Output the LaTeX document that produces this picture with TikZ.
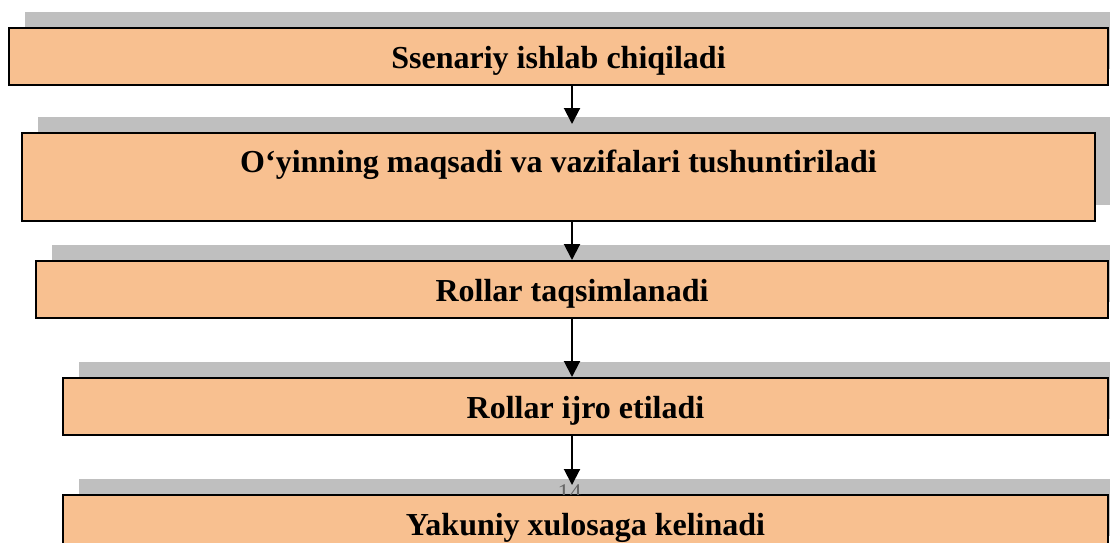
\documentclass[tikz,border=0pt]{standalone}
\usepackage{fontspec}
\setmainfont{Liberation Serif}
\usepackage{xcolor}
\usetikzlibrary{arrows.meta, positioning, shadows}
\definecolor{boxorange}{RGB}{248,192,144}
\definecolor{boxshade}{RGB}{191,191,191}
\begin{document}
\begin{tikzpicture}[x=1pt, y=-1pt,
    stagebox/.style={rectangle, draw, line width=2pt, fill=boxorange, anchor=north west,
        minimum height=57pt, text height=25pt, text depth=2pt,
        font=\fontsize{32}{38}\selectfont\bfseries,
        general shadow={fill=boxshade, shadow xshift=16pt, shadow yshift=16pt}},
    flow/.style={-{Triangle[length=16pt, width=16pt]}, line width=2pt}
]
\useasboundingbox (0,0) rectangle (1110,542);
\coordinate (axis) at (572,0);

\node[stagebox, minimum width=1099pt] at (8,27) (scenario) {Ssenariy ishlab chiqiladi};
\node[stagebox, minimum width=1073pt, minimum height=88pt, text depth=35pt] at (21,132) (goals) {O‘yinning maqsadi va vazifalari tushuntiriladi};
\node[stagebox, minimum width=1072pt] at (35,260) (roles) {Rollar taqsimlanadi};
\node[stagebox, minimum width=1045pt] at (62,377) (play) {Rollar ijro etiladi};
\node[stagebox, minimum width=1045pt] at (62,494) (summary) {Yakuniy xulosaga kelinadi};

\begin{scope}
\clip (play.south west) rectangle (summary.north east);
\node[anchor=base, text=black!60, font=\fontsize{24}{28}\selectfont] at (569.5,500) (pagenum) {14};
\end{scope}

\draw[flow, shorten >=8pt] (scenario.south -| axis) -- (goals.north -| axis);
\draw[flow] (goals.south -| axis) -- (roles.north -| axis);
\draw[flow] (roles.south -| axis) -- (play.north -| axis);
\draw[flow, shorten >=9pt] (play.south -| axis) -- (summary.north -| axis);
\end{tikzpicture}
\end{document}
